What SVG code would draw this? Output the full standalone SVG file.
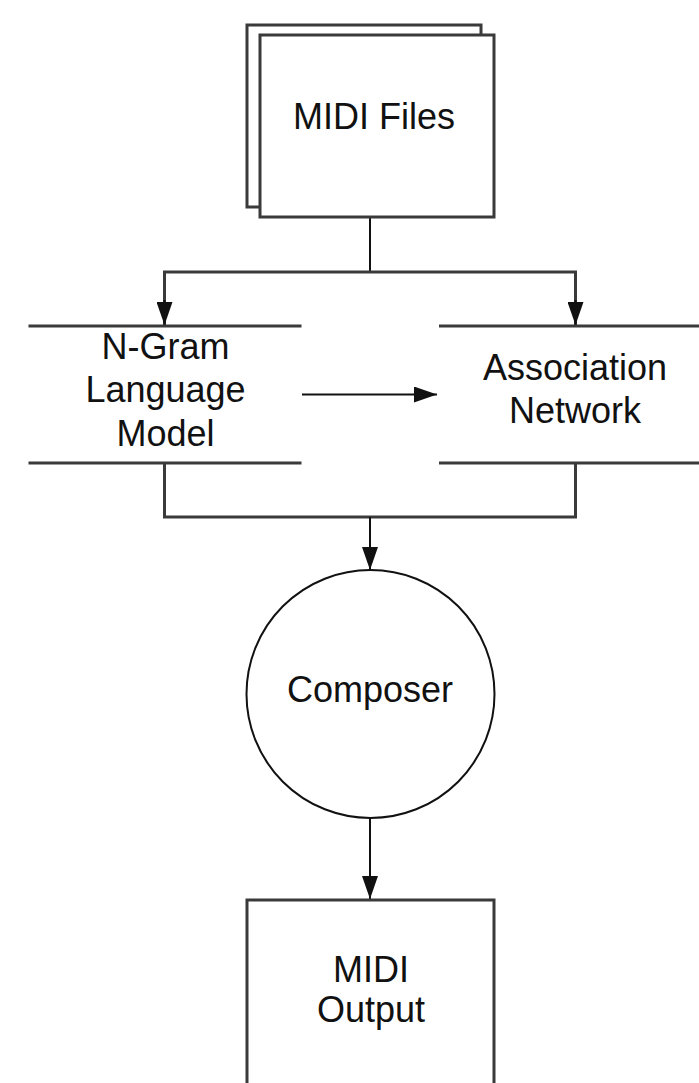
<svg xmlns="http://www.w3.org/2000/svg" width="699" height="1083" viewBox="0 0 699 1083">
<style>
.box{fill:#fff;stroke:#3a3a3a;stroke-width:3}
.band{fill:none;stroke:#3a3a3a;stroke-width:3}
.circ{fill:#fff;stroke:#111;stroke-width:2}
.lbl{font-family:"Liberation Sans",Arial,sans-serif;font-size:36px;fill:#111;text-anchor:middle}
.brk{fill:none;stroke:#3a3a3a;stroke-width:3}
.stem{fill:none;stroke:#111;stroke-width:2}
</style>
<defs>
<marker id="arr" markerUnits="userSpaceOnUse" markerWidth="24" markerHeight="16" refX="23" refY="8" orient="auto">
<path d="M0,0 L23,8 L0,16 Z" fill="#111"/>
</marker>
</defs>
<rect width="699" height="1083" fill="#fff"/>
<g id="connectors">
<path class="stem" d="M370,217 V272"/>
<path class="brk" d="M164.5,326 V272 H575.5 V326"/>
<path class="stem" d="M164.5,300 V325" marker-end="url(#arr)"/>
<path class="stem" d="M575.5,300 V325" marker-end="url(#arr)"/>
<path class="stem" d="M302,394.5 H437" marker-end="url(#arr)"/>
<path class="brk" d="M164.5,463 V517 H575.5 V463"/>
<path class="stem" d="M370,517 V570" marker-end="url(#arr)"/>
<path class="stem" d="M370,818 V899" marker-end="url(#arr)"/>
</g>
<g id="midi-files">
<rect class="box" x="247" y="25" width="234" height="182"/>
<rect class="box" x="260" y="35" width="234" height="182"/>
<text class="lbl" x="374" y="129">MIDI Files</text>
</g>
<g id="ngram">
<path class="band" d="M28.5,326 H301.5 M28.5,463 H301.5"/>
<text class="lbl" x="165.5" y="358.5">N-Gram</text>
<text class="lbl" x="165.5" y="402">Language</text>
<text class="lbl" x="165.5" y="446">Model</text>
</g>
<g id="association">
<path class="band" d="M439,326 H699 M439,463 H699"/>
<text class="lbl" x="575" y="380">Association</text>
<text class="lbl" x="575" y="422.5">Network</text>
</g>
<g id="composer">
<circle class="circ" cx="370.5" cy="694" r="124"/>
<text class="lbl" x="370" y="702">Composer</text>
</g>
<g id="midi-output">
<rect class="box" x="247" y="900" width="247" height="200"/>
<text class="lbl" x="371" y="982">MIDI</text>
<text class="lbl" x="371" y="1022">Output</text>
</g>
</svg>
